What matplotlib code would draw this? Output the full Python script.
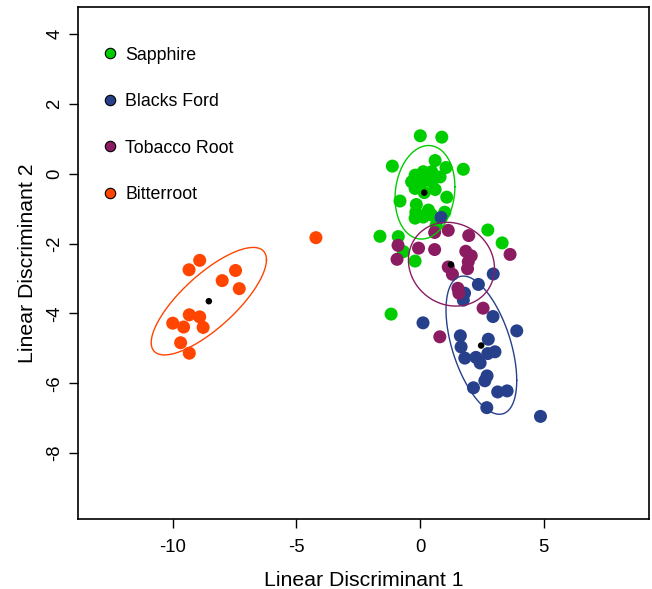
import numpy as np
import matplotlib
matplotlib.use("Agg")
import matplotlib.pyplot as plt
from matplotlib.lines import Line2D

plt.rcParams['font.family'] = ['Liberation Sans', 'DejaVu Sans']
plt.rcParams['axes.unicode_minus'] = False

# group names and colours
groups = ["Sapphire", "Blacks Ford", "Tobacco Root", "Bitterroot"]
colors = ["#00CD00", "#27408B", "#8B1C62", "#FF4500"]

# LD scores
sapphire_x = [0.01, 0.88, -1.12, 0.61, 1.05, 1.75, -0.20, 0.13, 0.47, 0.81, -0.34, 0.07,
              0.47, -0.20, 0.61, 0.17, 0.00, 0.30, -0.81, 1.08, -0.15, 0.34, -0.17, 1.00,
              -0.20, 0.13, 0.47, 0.65, -1.62, -0.88, -0.67, -0.20, 2.74, 3.32, -1.17]
sapphire_y = [1.09, 1.05, 0.22, 0.38, 0.18, 0.13, -0.04, 0.06, 0.06, -0.09, -0.23, -0.23,
              -0.23, -0.42, -0.45, -0.54, -0.32, -0.10, -0.78, -0.67, -0.88, -1.04, -1.10, -1.10,
              -1.27, -1.24, -1.18, -1.48, -1.79, -1.80, -2.23, -2.50, -1.61, -1.98, -4.02]

blacks_x = [0.85, 2.96, 2.36, 1.80, 1.75, 2.95, 0.12, 3.91, 1.63, 2.76, 1.66, 2.74,
            3.03, 1.81, 2.26, 2.43, 2.71, 2.62, 2.16, 3.14, 3.52, 2.70, 4.87]
blacks_y = [-1.25, -2.87, -3.17, -3.42, -3.62, -4.09, -4.27, -4.50, -4.64, -4.74, -4.96, -5.15,
            -5.10, -5.28, -5.26, -5.42, -5.79, -5.93, -6.13, -6.25, -6.22, -6.70, -6.95]

tobacco_x = [1.14, 1.97, 0.59, -0.89, -0.06, 0.59, 1.85, 2.07, 1.95, 1.92, 1.14, 1.31,
             1.53, 1.57, 2.55, 3.64, 0.80, -0.93]
tobacco_y = [-1.62, -1.77, -1.68, -2.05, -2.13, -2.17, -2.22, -2.35, -2.52, -2.72, -2.67, -2.88,
             -3.28, -3.42, -3.85, -2.31, -4.67, -2.45]

bitter_x = [-4.21, -8.91, -9.34, -7.46, -8.00, -7.31, -9.33, -8.91, -10.00, -9.56, -8.77, -9.68, -9.33]
bitter_y = [-1.83, -2.48, -2.75, -2.77, -3.06, -3.29, -4.04, -4.10, -4.28, -4.39, -4.40, -4.84, -5.14]

# group centroids
cent_x = [0.17, 2.47, 1.25, -8.54]
cent_y = [-0.54, -4.92, -2.60, -3.65]

# ellipses: centre, half-width in x, half-height in y, correlation
ell_cx = [0.20, 2.48, 1.27, -8.54]
ell_cy = [-0.53, -4.91, -2.59, -3.65]
ell_hx = [1.21, 1.43, 1.74, 2.33]
ell_hy = [1.34, 1.98, 1.20, 1.54]
ell_rho = [0.12, -0.51, -0.10, 0.77]

xs = [sapphire_x, blacks_x, tobacco_x, bitter_x]
ys = [sapphire_y, blacks_y, tobacco_y, bitter_y]

fig = plt.figure(figsize=(6.52, 5.89), dpi=100)
ax = fig.add_axes([78 / 652, 70 / 589, 571.3 / 652, 511.7 / 589])

for x, y, c in zip(xs, ys, colors):
    ax.scatter(x, y, s=88, color=c, edgecolors='none', zorder=2)

t = np.linspace(0, 2 * np.pi, 300)
for i, c in enumerate(colors):
    ex = ell_cx[i] + ell_hx[i] * np.cos(t)
    ey = ell_cy[i] + ell_hy[i] * (ell_rho[i] * np.cos(t) + np.sqrt(1 - ell_rho[i] ** 2) * np.sin(t))
    ax.plot(ex, ey, color=c, lw=1.0, zorder=3)

ax.scatter(cent_x, cent_y, s=22, color='black', edgecolors='none', zorder=4)

ax.set_xlim(-13.83, 9.27)
ax.set_ylim(-9.89, 4.77)
ax.set_xticks([-10, -5, 0, 5])
ax.set_yticks([-8, -6, -4, -2, 0, 2, 4])
ax.tick_params(direction='out', length=6.5, width=1.0, labelsize=13.3)
ax.tick_params(axis='x', pad=8)
ax.tick_params(axis='y', pad=4)
for lab in ax.get_yticklabels():
    lab.set_rotation(90)
    lab.set_va('center')
for sp in ax.spines.values():
    sp.set_linewidth(1.2)

ax.set_xlabel("Linear Discriminant 1", fontsize=15.3, labelpad=11)
ax.set_ylabel("Linear Discriminant 2", fontsize=15.3, labelpad=7)

handles = [Line2D([], [], ls='none', marker='o', markersize=7.5, markerfacecolor=c,
                  markeredgecolor='black', markeredgewidth=0.8) for c in colors]
ax.legend(handles, groups, loc='upper left', frameon=False, fontsize=12.8,
          labelspacing=1.66, handlelength=1.0, handletextpad=0.35,
          borderaxespad=0.0, bbox_to_anchor=(0.028, 0.937))

fig.savefig("out.png", dpi=100)
